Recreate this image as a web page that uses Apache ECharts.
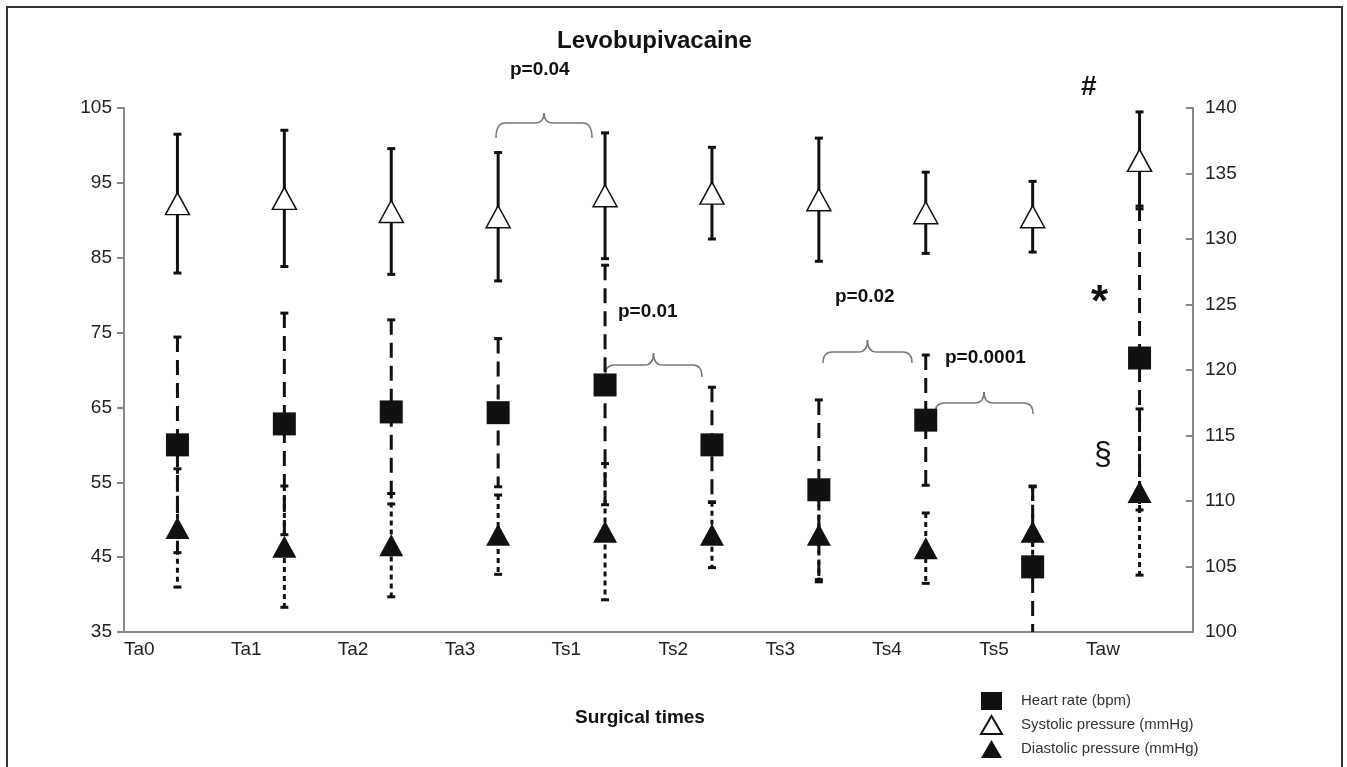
<!DOCTYPE html>
<html>
<head>
<meta charset="utf-8">
<script src="https://cdn.jsdelivr.net/npm/echarts@6/dist/echarts.min.js"></script>
<style>
  html, body { margin: 0; padding: 0; background: #fff; }
  #chart { width: 1347px; height: 767px; }
</style>
</head>
<body>
<div id="chart"></div>
<script>
// surgical times
const categories = ['Ta0', 'Ta1', 'Ta2', 'Ta3', 'Ts1', 'Ts2', 'Ts3', 'Ts4', 'Ts5', 'Taw']

// heart rate (bpm), left axis
const heartRate = [60.0, 62.8, 64.4, 64.3, 68.0, 60.0, 54.0, 63.3, 43.7, 71.6]
const heartRateSd = [14.4, 14.8, 12.3, 9.9, 16.0, 7.7, 12.0, 8.7, 10.8, 20.3]

// systolic pressure (mmHg), right axis
const systolic = [132.7, 133.1, 132.1, 131.7, 133.3, 133.5, 133.0, 132.0, 131.7, 136.0]
const systolicSd = [5.3, 5.2, 4.8, 4.9, 4.8, 3.5, 4.7, 3.1, 2.7, 3.7]

// diastolic pressure (mmHg), left axis
const diastolic = [48.9, 46.4, 46.6, 48.0, 48.4, 48.0, 48.0, 46.2, 48.4, 53.7]
const diastolicSd = [7.9, 8.1, 6.9, 5.3, 9.1, 4.4, 6.3, 4.7, 6.0, 11.1]

const leftTicks = [35, 105, 10]
const rightTicks = [100, 140, 5]

const FONT = '"Liberation Sans", Arial, sans-serif'

function points(values) {
  return values.map((v, i) => [i + 0.5, v])
}
function bars(values, sd) {
  return values.map((v, i) => [i + 0.5, v - sd[i], v + sd[i]])
}

function errorBar(dash) {
  return function(params, api) {
    const x = api.value(0)
    const top = api.coord([x, api.value(2)])
    const bot = api.coord([x, api.value(1)])
    const w = 4
    const stroke = { stroke: '#111', lineWidth: 3 }
    return {
      type: 'group',
      children: [
        { type: 'line', shape: { x1: top[0], y1: top[1], x2: bot[0], y2: bot[1] },
          style: Object.assign({ lineDash: dash }, stroke) },
        { type: 'line', shape: { x1: top[0] - w, y1: top[1], x2: top[0] + w, y2: top[1] }, style: stroke },
        { type: 'line', shape: { x1: bot[0] - w, y1: bot[1], x2: bot[0] + w, y2: bot[1] }, style: stroke }
      ]
    }
  }
}

// curly brace over a pair of times
function brace(x0, x1, yEnd, yLine, yPeak) {
  const m = (x0 + x1) / 2
  const r = 9
  const style = { stroke: '#777', lineWidth: 1.5, fill: null }
  const curve = (a, b, c, d, cx, cy) => ({
    type: 'bezierCurve', shape: { x1: a, y1: b, x2: c, y2: d, cpx1: cx, cpy1: cy }, style: style
  })
  const seg = (a, b, c, d) => ({ type: 'line', shape: { x1: a, y1: b, x2: c, y2: d }, style: style })
  return {
    type: 'group', silent: true,
    children: [
      curve(x0, yEnd, x0 + r, yLine, x0, yLine),
      seg(x0 + r, yLine, m - r, yLine),
      curve(m - r, yLine, m, yPeak, m, yLine),
      curve(m, yPeak, m + r, yLine, m, yLine),
      seg(m + r, yLine, x1 - r, yLine),
      curve(x1 - r, yLine, x1, yEnd, x1, yLine)
    ]
  }
}

function label(text, x, y, size, bold) {
  return {
    type: 'text', x: x, y: y, silent: true,
    style: { text: text, fill: '#111', font: (bold ? 'bold ' : '') + size + 'px ' + FONT,
      textVerticalAlign: 'middle' }
  }
}

const chart = echarts.init(document.getElementById('chart'))

const axisLine = { show: true, lineStyle: { color: '#888', width: 2 } }
const axisLabel = { color: '#222', fontSize: 19, fontFamily: FONT }

chart.setOption({
  backgroundColor: '#fff',
  animation: false,
  title: {
    text: 'Levobupivacaine', left: 552, top: 24,
    textStyle: { fontSize: 24, fontWeight: 'bold', color: '#111', fontFamily: FONT }
  },
  grid: { left: 124, right: 154, top: 108, bottom: 135, outerBoundsMode: 'none' },
  legend: {
    orient: 'vertical', left: 975, top: 687, itemGap: 5,
    itemWidth: 21, itemHeight: 18,
    textStyle: { fontSize: 15, color: '#333', fontFamily: FONT, padding: [0, 0, 0, 14] },
    data: [
      { name: 'Heart rate (bpm)', icon: 'rect' },
      { name: 'Systolic pressure (mmHg)', icon: 'triangle' },
      { name: 'Diastolic pressure (mmHg)', icon: 'triangle' }
    ]
  },
  xAxis: {
    type: 'value', min: 0, max: categories.length, interval: 1,
    axisLine: axisLine,
    axisTick: { show: false },
    splitLine: { show: false },
    axisLabel: Object.assign({}, axisLabel, {
      align: 'left', margin: 8,
      formatter: v => categories[v] || ''
    })
  },
  yAxis: [
    {
      type: 'value', min: leftTicks[0], max: leftTicks[1], interval: leftTicks[2],
      axisLine: axisLine,
      axisTick: { show: true, length: 7, lineStyle: { color: '#888', width: 2 } },
      splitLine: { show: false },
      axisLabel: Object.assign({}, axisLabel, { margin: 12 })
    },
    {
      type: 'value', position: 'right', min: rightTicks[0], max: rightTicks[1], interval: rightTicks[2],
      axisLine: axisLine,
      axisTick: { show: true, inside: true, length: 7, lineStyle: { color: '#888', width: 2 } },
      splitLine: { show: false },
      axisLabel: Object.assign({}, axisLabel, { margin: 12 })
    }
  ],
  series: [
    {
      type: 'custom', name: 'sbp-sd', yAxisIndex: 1, clip: true, z: 1,
      renderItem: errorBar(null), data: bars(systolic, systolicSd)
    },
    {
      type: 'custom', name: 'hr-sd', yAxisIndex: 0, clip: true, z: 1,
      renderItem: errorBar([15, 8]), data: bars(heartRate, heartRateSd)
    },
    {
      type: 'custom', name: 'dbp-sd', yAxisIndex: 0, clip: true, z: 1,
      renderItem: errorBar([5, 4]), data: bars(diastolic, diastolicSd)
    },
    {
      type: 'scatter', name: 'Heart rate (bpm)', yAxisIndex: 0, z: 3,
      symbol: 'rect', symbolSize: 23,
      itemStyle: { color: '#111', opacity: 1 },
      data: points(heartRate)
    },
    {
      type: 'scatter', name: 'Systolic pressure (mmHg)', yAxisIndex: 1, z: 3,
      symbol: 'triangle', symbolSize: [24, 22],
      itemStyle: { color: '#fff', borderColor: '#111', borderWidth: 1.5, opacity: 1 },
      data: points(systolic)
    },
    {
      type: 'scatter', name: 'Diastolic pressure (mmHg)', yAxisIndex: 0, z: 3,
      symbol: 'triangle', symbolSize: [24, 22],
      itemStyle: { color: '#111', opacity: 1 },
      data: points(diastolic)
    }
  ],
  graphic: [
    { type: 'rect', shape: { x: 7, y: 7, width: 1335, height: 780 },
      style: { stroke: '#333', lineWidth: 2, fill: null }, silent: true },
    brace(496, 592, 138, 123, 113),
    brace(605, 702, 377, 365, 353),
    brace(823, 912, 363, 352, 340),
    brace(935, 1033, 414, 403, 392),
    label('p=0.04', 510, 70, 19, true),
    label('p=0.01', 618, 312, 19, true),
    label('p=0.02', 835, 297, 19, true),
    label('p=0.0001', 945, 358, 19, true),
    label('#', 1081, 87, 28, true),
    label('*', 1091, 304, 44, true),
    label('§', 1094, 455, 32, false),
    { type: 'text', x: 640, y: 718, silent: true,
      style: { text: 'Surgical times', fill: '#111', font: 'bold 19px ' + FONT,
        textAlign: 'center', textVerticalAlign: 'middle' } }
  ]
})
</script>
</body>
</html>
